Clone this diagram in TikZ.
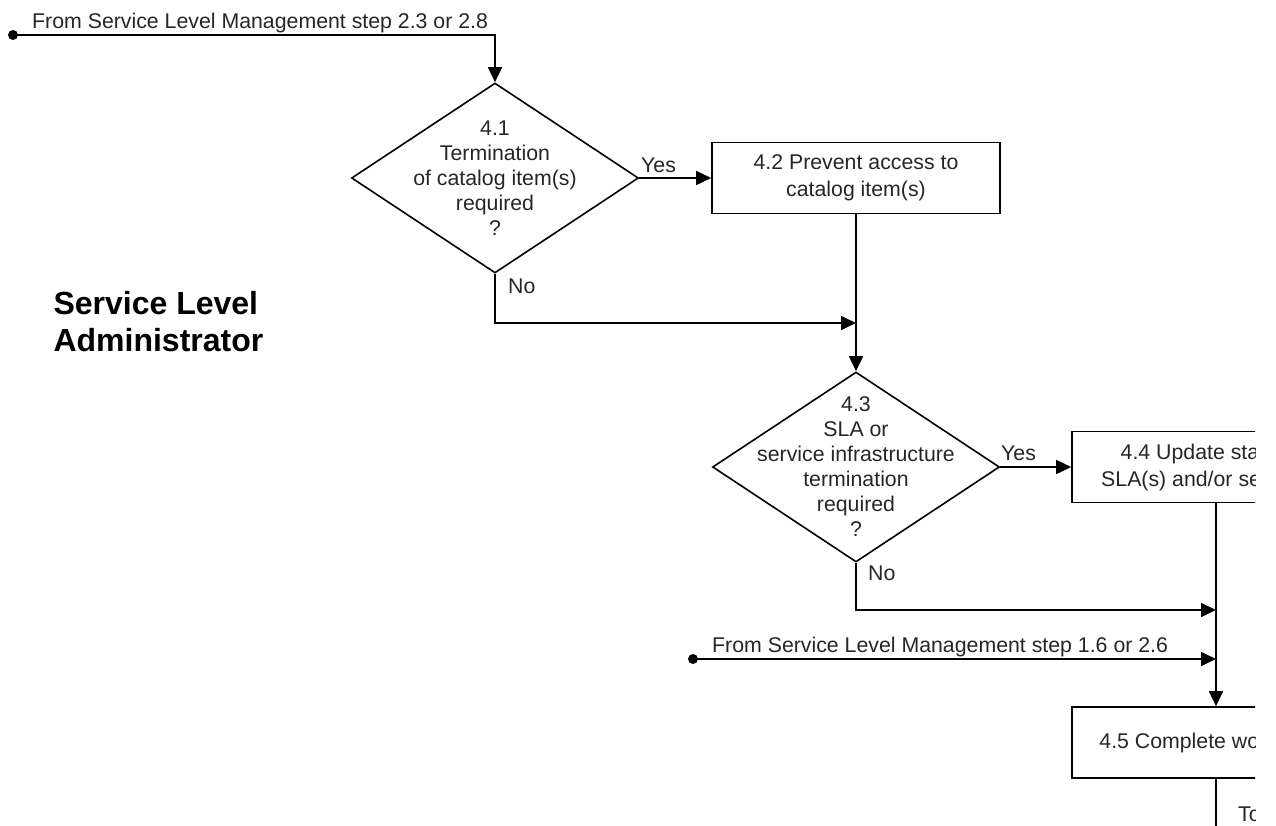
\documentclass[tikz,border=0pt]{standalone}
\usepackage{fontspec}
\setmainfont{Liberation Sans}
\usetikzlibrary{shapes.geometric,arrows.meta}

\begin{document}
\begin{tikzpicture}[x=1pt,y=-1pt,
  every node/.style={font=\fontsize{21.3}{25}\selectfont, text=black!85},
  flow/.style={line width=1.6pt, draw=black},
  arr/.style={flow, -{Triangle[length=15pt,width=14pt]}},
  procbox/.style={draw=black, line width=1.6pt, minimum width=288pt, minimum height=71pt,
    align=center, inner sep=0pt, font=\fontsize{21.3}{27}\selectfont},
  decision/.style={diamond, draw=black, line width=1.6pt, minimum width=287pt,
    minimum height=190pt, inner sep=0pt},
  dtext/.style={align=center, inner sep=0pt},
  lbl/.style={anchor=base west, inner sep=0pt},
  dot/.style={circle, fill=black, minimum size=10pt, inner sep=0pt}
]
\useasboundingbox (0,0) rectangle (1276,825);

\begin{scope}
\clip (0,0) rectangle (1255,825);

% lane title
\node[anchor=west, align=left, text=black,
      font=\bfseries\fontsize{32}{37}\selectfont] (role) at (50,321.5)
      {Service Level\\Administrator};

% steps
\node[decision] (d1) at (495,178) {};
\node[dtext] (t1) at (d1.center) {4.1\\Termination\\of catalog item(s)\\required\\?};
\node[procbox] (b2) at (856,178) {4.2 Prevent access to\\catalog item(s)};
\node[decision] (d2) at (856,467) {};
\node[dtext] (t2) at (d2.center) {4.3\\SLA or\\service infrastructure\\termination\\required\\?};
\node[procbox] (b4) at (1216,467) {4.4 Update status of\\SLA(s) and/or service(s)};
\node[procbox] (b5) at (1216,742.5) {4.5 Complete work order};

% entry points
\node[dot] (s1) at (13,35) {};
\node[dot] (s2) at (693,659) {};

% junctions
\coordinate (j1) at (856,323);
\coordinate (j2) at (1216,610);
\coordinate (j3) at (1216,659);
\coordinate (e1) at (1216,830);

% connectors
\draw[arr] (s1.center) -- (d1.north |- s1.center) -- (d1.north);
\draw[arr] (d1.east) -- (b2.west);
\draw[arr] (d1.south) |- (j1);
\draw[arr] (b2.south) -- (d2.north);
\draw[arr] (d2.east) -- (b4.west);
\draw[arr] (d2.south) |- (j2);
\draw[arr] (s2.center) -- (j3);
\draw[arr] (b4.south) -- (b5.north);
\draw[flow] (b5.south) -- (e1);

% connector labels
\node[lbl] (f1) at (32,28) {From Service Level Management step 2.3 or 2.8};
\node[lbl] (f2) at (712,652) {From Service Level Management step 1.6 or 2.6};
\node[lbl] (y1) at (641,172) {Yes};
\node[lbl] (n1) at (508,293) {No};
\node[lbl] (y2) at (1001,460) {Yes};
\node[lbl] (n2) at (868,580) {No};
\node[lbl] (to) at (1238,821) {To};
\end{scope}
\end{tikzpicture}
\end{document}
